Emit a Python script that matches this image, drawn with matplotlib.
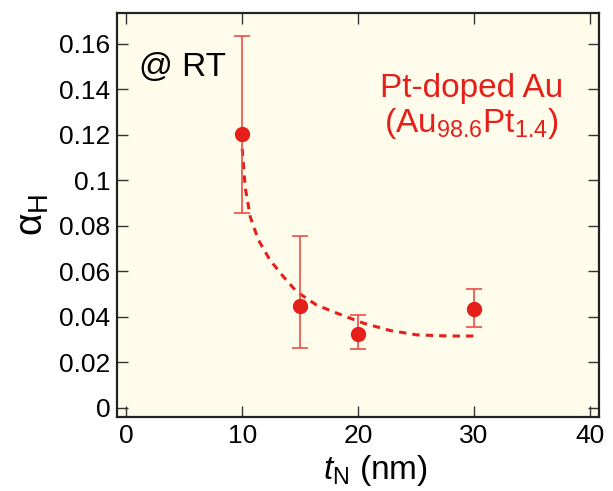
import matplotlib
matplotlib.use("Agg")
from matplotlib import pyplot as plt

plt.rcParams['font.family'] = ['Liberation Sans', 'DejaVu Sans']
plt.rcParams['mathtext.fontset'] = 'custom'
plt.rcParams['mathtext.rm'] = 'Liberation Sans'
plt.rcParams['mathtext.it'] = 'Liberation Sans:italic'
plt.rcParams['mathtext.sf'] = 'Liberation Sans'

# measured points
t_n = [10, 15, 20, 30]
alpha_h = [0.1203, 0.0447, 0.0327, 0.0436]
err_low = [0.0347, 0.0182, 0.0068, 0.0080]
err_high = [0.0432, 0.0310, 0.0082, 0.0087]

# dashed guide curve
fit_x = [10.0, 10.26, 10.7, 11.4, 12.4, 13.56, 14.7, 16.4, 18.2, 20.5, 22.8, 25.1, 27.9, 30.2]
fit_y = [0.114, 0.097, 0.084, 0.0738, 0.065, 0.0577, 0.0511, 0.0453, 0.0416, 0.0372,
         0.034, 0.0321, 0.0316, 0.0316]

x_ticks = [0, 10, 20, 30, 40]
y_ticks = [0, 0.02, 0.04, 0.06, 0.08, 0.1, 0.12, 0.14, 0.16]
y_labels = ['0', '0.02', '0.04', '0.06', '0.08', '0.1', '0.12', '0.14', '0.16']

red = '#E51F1A'

fig = plt.figure(figsize=(6.13, 4.91), dpi=100)
ax = fig.add_axes([0.191, 0.1507, 0.786, 0.8228])
ax.set_facecolor('#FFFCEC')

ax.plot(fit_x, fit_y, color=red, lw=2.2, dashes=(2.4, 2.0), zorder=2)
ax.errorbar(t_n, alpha_h, yerr=[err_low, err_high], fmt='o', color=red,
            ms=10, elinewidth=1.2, capsize=6, capthick=1.2, ecolor='#EE4C44', zorder=3)

ax.set_xlim(-0.8, 40.8)
ax.set_ylim(-0.004, 0.1736)
ax.set_xticks(x_ticks)
ax.set_yticks(y_ticks)
ax.set_yticklabels(y_labels)
ax.tick_params(direction='in', length=8, width=1.0, labelsize=19, color='#333333',
               top=True, right=True, pad=5)
for s in ax.spines.values():
    s.set_linewidth(1.6)
    s.set_color('#222222')

ax.set_xlabel(r'$t_{\mathrm{N}}$ (nm)', fontsize=24, labelpad=2)
ax.xaxis.set_label_coords(0.537, -0.088)
ax.set_ylabel(r'$\mathrm{\alpha}_{\mathrm{H}}$', fontsize=28, labelpad=6)

ax.text(0.045, 0.844, '@ RT', transform=ax.transAxes, fontsize=24, va='baseline', ha='left')
ax.text(0.7365, 0.792, 'Pt-doped Au', transform=ax.transAxes, fontsize=24,
        color=red, ha='center', va='baseline')
ax.text(0.7365, 0.705, r'(Au$_{98.6}$Pt$_{1.4}$)', transform=ax.transAxes, fontsize=24,
        color=red, ha='center', va='baseline')

fig.savefig('out.png', dpi=100)
